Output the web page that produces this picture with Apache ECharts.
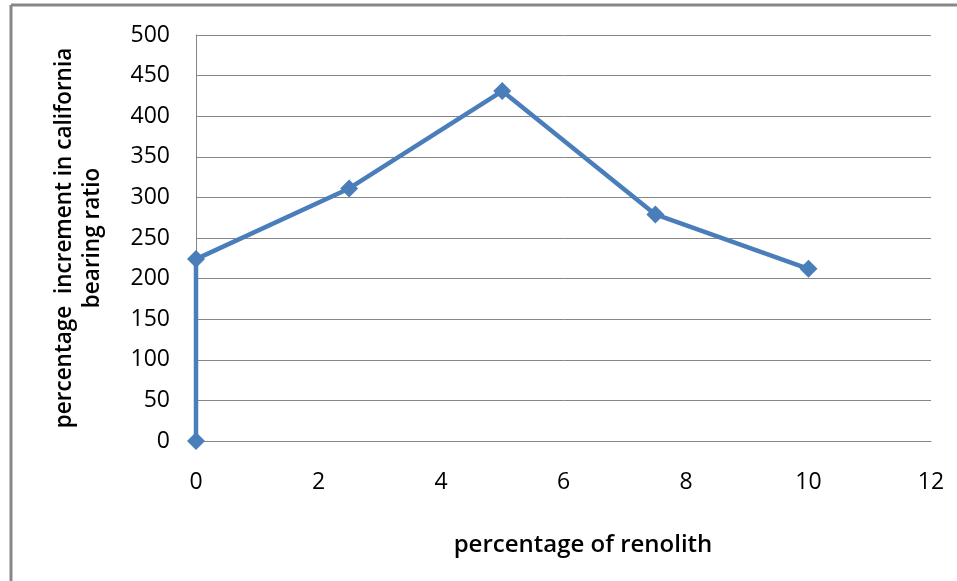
<!DOCTYPE html>
<html>
<head>
<meta charset="utf-8">
<script src="https://cdn.jsdelivr.net/npm/echarts@6/dist/echarts.min.js"></script>
<style>
html,body{margin:0;padding:0;background:#fff;}
#chart{width:957px;height:581px;}
</style>
</head>
<body>
<div id="chart"></div>
<script>
const renolithPct = [0, 0, 2.5, 5, 7.5, 10];
const cbrIncrement = [0, 224, 311, 431, 279, 212];
const xTitle = 'percentage of renolith';
const yTitle = 'percentage  increment in california\nbearing ratio';

const chart = echarts.init(document.getElementById('chart'), null, {renderer: 'canvas'});
const fontFam = '"Open Sans", "Liberation Sans", sans-serif';
chart.setOption({
  animation: false,
  backgroundColor: '#fff',
  grid: {left: 196, right: 26, top: 35, bottom: 140},
  graphic: [
    {type: 'line', shape: {x1: 11, y1: 5, x2: 11, y2: 581}, style: {stroke: '#888', lineWidth: 3}},
    {type: 'line', shape: {x1: 11, y1: 5, x2: 957, y2: 5}, style: {stroke: '#888', lineWidth: 3}},
    {type: 'text', x: 583, y: 545, style: {text: xTitle, font: '600 24px ' + fontFam, fill: '#000', textAlign: 'center', textVerticalAlign: 'middle'}},
    {type: 'text', x: 79, y: 238, rotation: Math.PI / 2, style: {text: yTitle, font: '600 22.5px ' + fontFam, fill: '#000', textAlign: 'center', textVerticalAlign: 'middle', lineHeight: 28}}
  ],
  xAxis: {
    type: 'value', min: 0, max: 12, interval: 2,
    axisLine: {show: true, lineStyle: {color: '#868686', width: 1}},
    axisTick: {show: false},
    splitLine: {show: false},
    axisLabel: {color: '#000', fontSize: 23, fontFamily: fontFam, margin: 30}
  },
  yAxis: {
    type: 'value', min: 0, max: 500, interval: 50,
    axisLine: {show: true, lineStyle: {color: '#868686', width: 1}},
    axisTick: {show: false},
    splitLine: {show: true, lineStyle: {color: '#868686', width: 1}},
    axisLabel: {color: '#000', fontSize: 23, fontFamily: fontFam, margin: 26}
  },
  series: [{
    type: 'line',
    data: renolithPct.map((x, i) => [x, cbrIncrement[i]]),
    symbol: 'diamond',
    symbolSize: 18,
    lineStyle: {color: '#4a7ebb', width: 4.5},
    itemStyle: {color: '#4a7ebb'}
  }]
});
</script>
</body>
</html>
